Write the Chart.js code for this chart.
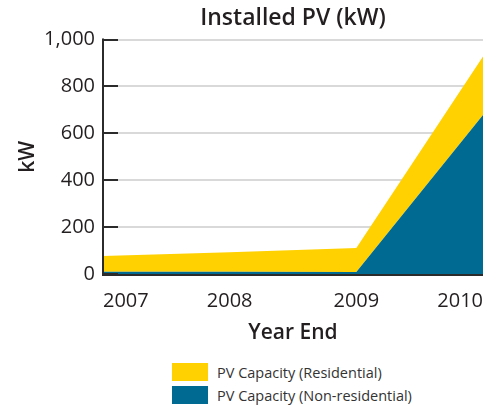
<!DOCTYPE html>
<html>
<head>
<meta charset="utf-8">
<script src="https://cdn.jsdelivr.net/npm/chart.js@4.4.0/dist/chart.umd.min.js"></script>
<style>
  body { margin: 0; background: #fff; font-family: "Open Sans", sans-serif; }
  .wrap { position: relative; width: 500px; height: 406px; }
  .chart-box { position: absolute; left: 0; top: 0; width: 500px; height: 350px; }
  .legend { position: absolute; left: 172px; top: 363px; }
  .legend-item { display: flex; align-items: center; height: 18px; margin-bottom: 5px; font-size: 14.5px; color: #333; }
  .swatch { width: 36px; height: 18px; margin-right: 9px; }
</style>
</head>
<body>
<div class="wrap">
  <div class="chart-box"><canvas id="pvChart"></canvas></div>
  <div class="legend" id="legend"></div>
</div>
<script>
// --- DADOS ---
const years = ['2007', '2008', '2009', '2010'];
const nonResidential = [10, 10, 9, 678];
const residential = [67, 83, 102, 250];
const yTicks = [0, 200, 400, 600, 800, 1000];

const YELLOW = '#FFD100';
const BLUE = '#006A93';
const TEXT = '#231f20';
const AXIS = '#2b2b2b';
const FONT = 'Open Sans';

// eixos e marcas internas
const innerTicks = {
    id: 'innerTicks',
    afterDatasetsDraw(chart) {
        const { ctx, chartArea, scales: { y } } = chart;
        ctx.save();
        ctx.strokeStyle = AXIS;
        ctx.lineWidth = 2;
        y.ticks.forEach(t => {
            const py = Math.round(y.getPixelForValue(t.value));
            ctx.beginPath();
            ctx.moveTo(chartArea.left, py);
            ctx.lineTo(chartArea.left + 15, py);
            ctx.stroke();
        });
        ctx.beginPath();
        ctx.moveTo(chartArea.left, chartArea.top - 1);
        ctx.lineTo(chartArea.left, chartArea.bottom + 1);
        ctx.lineTo(chartArea.right, chartArea.bottom + 1);
        ctx.stroke();
        ctx.restore();
    }
};

const chart = new Chart(document.getElementById('pvChart'), {
    type: 'line',
    data: {
        labels: years,
        datasets: [
            { label: 'PV Capacity (Non-residential)', data: nonResidential, backgroundColor: BLUE, borderWidth: 0, fill: 'origin', pointRadius: 0, tension: 0 },
            { label: 'PV Capacity (Residential)', data: residential, backgroundColor: YELLOW, borderWidth: 0, fill: '-1', pointRadius: 0, tension: 0 }
        ]
    },
    options: {
        responsive: true, maintainAspectRatio: false, animation: false,
        layout: { padding: { left: 0, right: 17, top: 0, bottom: 0 } },
        plugins: {
            legend: { display: false },
            tooltip: { enabled: false },
            title: {
                display: true, text: 'Installed PV (kW)', color: TEXT, fullSize: false,
                font: { family: FONT, size: 23, weight: '600' },
                padding: { top: 5, bottom: 7 }
            }
        },
        scales: {
            x: {
                stacked: true,
                grid: { display: false, drawTicks: false },
                border: { display: false },
                ticks: { color: TEXT, align: 'inner', padding: 15, maxRotation: 0, font: { family: FONT, size: 20 } },
                title: { display: true, text: 'Year End', color: TEXT, padding: { top: 4 }, font: { family: FONT, size: 21, weight: '600' } },
                afterFit: s => { s.height = 76; }
            },
            y: {
                stacked: true, min: 0, max: 1000,
                afterBuildTicks: s => { s.ticks = yTicks.map(v => ({ value: v })); },
                grid: { color: '#d9d9d9', lineWidth: 2, drawTicks: false },
                border: { display: false },
                ticks: { color: TEXT, padding: 8, font: { family: FONT, size: 20 }, callback: v => v.toLocaleString('en-US') },
                title: { display: true, text: 'kW', color: TEXT, padding: { top: 15 }, font: { family: FONT, size: 21, weight: '600' } },
                afterFit: s => { s.width = 103; }
            }
        }
    },
    plugins: [innerTicks]
});

// legenda
const legendEl = document.getElementById('legend');
[1, 0].forEach(i => {
    const ds = chart.data.datasets[i];
    const item = document.createElement('div');
    item.className = 'legend-item';
    item.innerHTML = `<span class="swatch" style="background:${ds.backgroundColor}"></span><span>${ds.label}</span>`;
    legendEl.appendChild(item);
});
</script>
</body>
</html>
